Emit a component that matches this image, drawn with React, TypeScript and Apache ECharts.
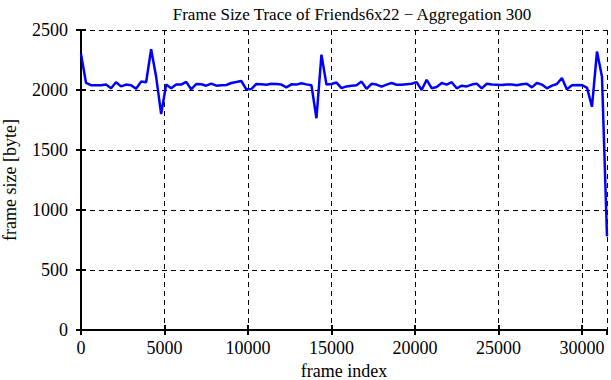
import React, { useEffect, useRef } from "react";
import * as echarts from "echarts";

const frameIndex: number[] = [
  0, 300, 600, 900, 1200, 1500, 1800, 2100, 2400, 2700,
  3000, 3300, 3600, 3900, 4200, 4500, 4800, 5100, 5400, 5700,
  6000, 6300, 6600, 6900, 7200, 7500, 7800, 8100, 8400, 8700,
  9000, 9300, 9600, 9900, 10200, 10500, 10800, 11100, 11400, 11700,
  12000, 12300, 12600, 12900, 13200, 13500, 13800, 14100, 14400, 14700,
  15000, 15300, 15600, 15900, 16200, 16500, 16800, 17100, 17400, 17700,
  18000, 18300, 18600, 18900, 19200, 19500, 19800, 20100, 20400, 20700,
  21000, 21300, 21600, 21900, 22200, 22500, 22800, 23100, 23400, 23700,
  24000, 24300, 24600, 24900, 25200, 25500, 25800, 26100, 26400, 26700,
  27000, 27300, 27600, 27900, 28200, 28500, 28800, 29100, 29400, 29700,
  30000, 30300, 30600, 30900, 31200, 31500,
];

const frameSize: number[] = [
  2300, 2060, 2040, 2040, 2040, 2045, 2015, 2065, 2030, 2045,
  2040, 2010, 2070, 2065, 2340, 2110, 1800, 2045, 2015, 2045,
  2045, 2068, 2006, 2050, 2048, 2036, 2053, 2036, 2040, 2042,
  2058, 2066, 2075, 2006, 2008, 2050, 2047, 2044, 2052, 2050,
  2045, 2022, 2047, 2045, 2056, 2047, 2040, 1765, 2295, 2045,
  2050, 2062, 2016, 2030, 2036, 2040, 2070, 2010, 2052, 2045,
  2028, 2045, 2058, 2044, 2044, 2048, 2052, 2066, 2000, 2085,
  2015, 2025, 2058, 2045, 2065, 2014, 2036, 2030, 2045, 2053,
  2014, 2052, 2045, 2044, 2042, 2045, 2046, 2040, 2048, 2052,
  2022, 2058, 2045, 2014, 2036, 2050, 2100, 2005, 2040, 2042,
  2040, 2020, 1860, 2320, 2110, 780,
];

const xMin = 0;
const xMax = 31500;
const xStep = 5000;
const yMin = 0;
const yMax = 2500;
const yStep = 500;

const titleText = "Frame Size Trace of Friends6x22 \u2212 Aggregation 300";
const xName = "frame index";
const yName = "frame size [byte]";

export default function App() {
  const ref = useRef<HTMLDivElement>(null);
  useEffect(() => {
    if (!ref.current) return;
    const chart = echarts.init(ref.current, null, { renderer: "svg" });
    const font = "'Liberation Serif', 'Times New Roman', serif";
    const data = frameIndex.map((x, i) => [x, frameSize[i]]);
    const axisLine = { show: true, lineStyle: { color: "#000", width: 2 } };
    const inTick = { show: true, inside: true, length: 5, lineStyle: { color: "#000", width: 2 } };
    const plain = (v: number) => String(v);
    chart.setOption({
      animation: false,
      backgroundColor: "#fff",
      title: {
        text: titleText,
        left: 347,
        textAlign: "center",
        top: 1,
        textStyle: { fontFamily: font, fontSize: 17, fontWeight: "normal", color: "#000" },
      },
      grid: { left: 81, right: 4, top: 30, bottom: 50, containLabel: false, outerBoundsMode: "none" },
      xAxis: [
        {
          type: "value",
          min: xMin,
          max: xMax,
          interval: xStep,
          position: "bottom",
          axisLine,
          axisTick: inTick,
          axisLabel: {
            showMaxLabel: false,
            margin: 9,
            fontFamily: font,
            fontSize: 18,
            color: "#000",
            formatter: plain,
          },
          splitLine: { show: true, lineStyle: { color: "#000", type: [5, 4], width: 1 } },
          name: xName,
          nameLocation: "middle",
          nameGap: 32,
          nameTextStyle: { fontFamily: font, fontSize: 18, color: "#000" },
        },
        {
          type: "value",
          min: xMin,
          max: xMax,
          interval: xStep,
          position: "top",
          axisLine,
          axisTick: inTick,
          axisLabel: { show: false },
          splitLine: { show: false },
        },
      ],
      yAxis: [
        {
          type: "value",
          min: yMin,
          max: yMax,
          interval: yStep,
          position: "left",
          axisLine,
          axisTick: inTick,
          axisLabel: { margin: 13, fontFamily: font, fontSize: 18, color: "#000", formatter: plain },
          splitLine: { show: true, lineStyle: { color: "#000", type: [5, 4], width: 1 } },
          name: yName,
          nameLocation: "middle",
          nameGap: 62,
          nameTextStyle: { fontFamily: font, fontSize: 18, color: "#000" },
        },
        {
          type: "value",
          min: yMin,
          max: yMax,
          interval: yStep,
          position: "right",
          axisLine,
          axisTick: inTick,
          axisLabel: { show: false },
          splitLine: { show: false },
        },
      ],
      series: [
        {
          type: "line",
          data,
          showSymbol: false,
          symbol: "none",
          lineStyle: { color: "#0000ff", width: 2.5 },
          xAxisIndex: 0,
          yAxisIndex: 0,
        },
      ],
    });
    return () => chart.dispose();
  }, []);
  return <div ref={ref} style={{ width: 611, height: 380, position: "absolute", left: 0, top: 0 }} />;
}
